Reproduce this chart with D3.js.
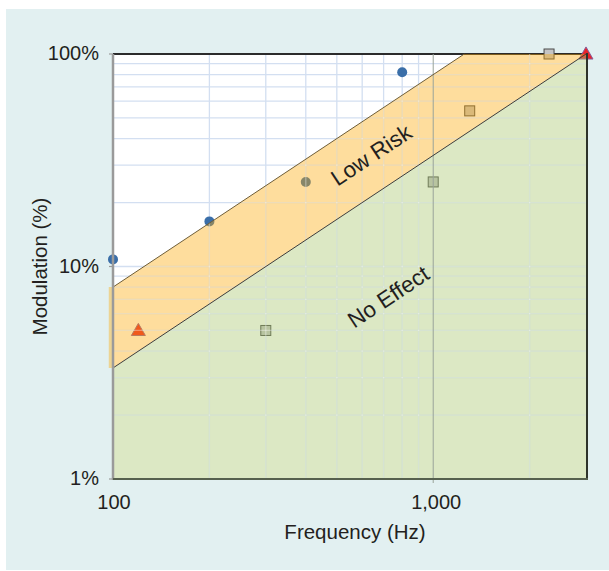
<!DOCTYPE html>
<html lang="en">
<head>
<meta charset="UTF-8">
<title>Modulation vs Frequency</title>
<script src="https://d3js.org/d3.v7.min.js"></script>
<style>
    body { margin: 0; background: #fff; }
    svg { display: block; font-family: "Liberation Sans", Arial, sans-serif; }
    .tick-label { font-size: 20px; fill: #231f20; }
    .axis-title { font-size: 20.5px; fill: #231f20; }
    .zone-label { font-size: 22.5px; fill: #231f20; }
</style>
</head>
<body>
<script>
    // measured points
    const circleFreq = [100, 200, 400, 800];
    const circleMod = [10.8, 16.3, 25, 82];
    const squareFreq = [300, 1000, 1300, 2300];
    const squareMod = [5, 25, 54, 100];
    const triangleFreq = [120, 3000];
    const triangleMod = [5, 100];

    // zone boundaries (low risk = 0.08 f, no effect = 0.0333 f)
    const lowRiskFreq = [97, 100, 1250, 3000];
    const lowRiskMod = [8, 8, 100, 100];
    const noEffectFreq = [97, 100, 3000];
    const noEffectMod = [3.33, 3.33, 100];

    const xTicks = [100, 1000];
    const xTickLabels = ["100", "1,000"];
    const yTicks = [1, 10, 100];
    const yTickLabels = ["1%", "10%", "100%"];

    const W = 609, H = 571;
    const x = d3.scaleLog().domain([100, 3000]).range([113, 586]);
    const y = d3.scaleLog().domain([1, 100]).range([479, 54]);

    const svg = d3.select("body").append("svg").attr("width", W).attr("height", H);

    svg.append("rect").attr("x", 6).attr("y", 9).attr("width", W - 6).attr("height", H - 10)
        .attr("fill", "#e2f0f1");

    svg.append("rect").attr("x", x(100)).attr("y", y(100))
        .attr("width", x(3000) - x(100)).attr("height", y(1) - y(100))
        .attr("fill", "#fff");

    // minor grid values
    const xGrid = [];
    for (const d of [100, 1000]) for (let k = 1; k <= 9; k++) if (d * k <= 3000) xGrid.push(d * k);
    const yGrid = [];
    for (const d of [1, 10]) for (let k = 1; k <= 9; k++) yGrid.push(d * k);
    yGrid.push(100);

    function drawGrid(g, color, width) {
        g.selectAll(".vg").data(xGrid.filter(v => v !== 100 && v !== 1000 && v !== 3000)).enter().append("line")
            .attr("x1", d => x(d)).attr("x2", d => x(d)).attr("y1", y(100)).attr("y2", y(1))
            .attr("stroke", color).attr("stroke-width", width);
        g.selectAll(".hg").data(yGrid.filter(v => v !== 1 && v !== 100)).enter().append("line")
            .attr("x1", x(100)).attr("x2", x(3000)).attr("y1", d => y(d)).attr("y2", d => y(d))
            .attr("stroke", color).attr("stroke-width", width);
    }

    drawGrid(svg.append("g"), "#d3dff1", 1.3);

    // top border sits under the translucent zones
    svg.append("line").attr("x1", x(100)).attr("x2", x(3000) + 1).attr("y1", y(100)).attr("y2", y(100))
        .attr("stroke", "#2b2b2b").attr("stroke-width", 2.2);

    // markers (zones are painted over them)
    const marks = svg.append("g");
    marks.selectAll(".sq").data(squareFreq.map((f, i) => [f, squareMod[i]])).enter().append("rect")
        .attr("x", d => x(d[0]) - 5).attr("y", d => y(d[1]) - 5)
        .attr("width", 10).attr("height", 10)
        .attr("fill", "#c4c4c4").attr("stroke", "#4a4a4a").attr("stroke-width", 1);
    marks.selectAll(".ci").data(circleFreq.map((f, i) => [f, circleMod[i]])).enter().append("circle")
        .attr("cx", d => x(d[0])).attr("cy", d => y(d[1])).attr("r", 5)
        .attr("fill", "#3a6ea8");
    const tri = d3.symbol().type(d3.symbolTriangle).size(85);
    marks.selectAll(".tr").data(triangleFreq.map((f, i) => [f, triangleMod[i]])).enter().append("path")
        .attr("d", tri)
        .attr("transform", d => `translate(${x(d[0])},${y(d[1]) + 1})`)
        .attr("fill", "#e8242a").attr("stroke", "#8a5c9a").attr("stroke-width", 1);

    // zones
    const area = d3.line().x(d => x(d[0])).y(d => y(d[1]));
    const lowPts = lowRiskFreq.map((f, i) => [f, lowRiskMod[i]]);
    const noPts = noEffectFreq.map((f, i) => [f, noEffectMod[i]]);
    const orangePoly = lowPts.concat(noPts.slice().reverse());
    const greenPoly = noPts.slice(1).concat([[3000, 1], [100, 1]]);

    svg.append("path").attr("d", area(orangePoly) + "Z").attr("fill", "#fcaa0a").attr("fill-opacity", 0.4);
    svg.append("path").attr("d", area(greenPoly) + "Z").attr("fill", "#a7c56b").attr("fill-opacity", 0.4);

    // lighter grid inside the zones
    const clip = svg.append("clipPath").attr("id", "zones");
    clip.append("path").attr("d", area(orangePoly) + "Z");
    clip.append("path").attr("d", area(greenPoly) + "Z");
    drawGrid(svg.append("g").attr("clip-path", "url(#zones)"), "rgba(255,255,255,0.35)", 1.3);

    // 1,000 Hz line
    svg.append("line").attr("x1", x(1000)).attr("x2", x(1000)).attr("y1", y(100)).attr("y2", y(1) + 4)
        .attr("stroke", "#9aa49a").attr("stroke-width", 1);

    // boundary lines
    svg.append("path").attr("d", area(lowPts.slice(1, 3))).attr("fill", "none")
        .attr("stroke", "#6e5d38").attr("stroke-width", 1);
    svg.append("path").attr("d", area(noPts.slice(1))).attr("fill", "none")
        .attr("stroke", "#3c3c3c").attr("stroke-width", 1);

    // frame
    svg.append("line").attr("x1", x(100)).attr("x2", x(100)).attr("y1", y(100)).attr("y2", y(1) + 1)
        .attr("stroke", "#9a9a9a").attr("stroke-width", 2.5);
    svg.append("line").attr("x1", x(3000) + 1).attr("x2", x(3000) + 1).attr("y1", y(100) - 1).attr("y2", y(1) + 1)
        .attr("stroke", "#2e332b").attr("stroke-width", 2);
    svg.append("line").attr("x1", x(100)).attr("x2", x(3000) + 2).attr("y1", y(1)).attr("y2", y(1))
        .attr("stroke", "#56604e").attr("stroke-width", 2);

    // ticks and labels
    svg.selectAll(".yt").data(yTicks).enter().append("line")
        .attr("x1", x(100) - 4).attr("x2", x(100)).attr("y1", d => y(d)).attr("y2", d => y(d))
        .attr("stroke", "#9a9a9a").attr("stroke-width", 1.2);
    svg.selectAll(".yl").data(yTicks).enter().append("text")
        .attr("class", "tick-label").attr("x", x(100) - 14).attr("y", d => y(d) - 1).attr("dy", "0.35em")
        .attr("text-anchor", "end").text((d, i) => yTickLabels[i]);
    svg.selectAll(".xl").data(xTicks).enter().append("text")
        .attr("class", "tick-label").attr("x", d => x(d) + (d === 1000 ? 3 : 1)).attr("y", y(1) + 23)
        .attr("dy", "0.35em").attr("text-anchor", "middle").text((d, i) => xTickLabels[i]);

    svg.append("text").attr("class", "axis-title").attr("x", 355).attr("y", 532).attr("dy", "0.35em")
        .attr("text-anchor", "middle").text("Frequency (Hz)");
    svg.append("text").attr("class", "axis-title")
        .attr("transform", `translate(40,${(y(1) + y(100)) / 2}) rotate(-90)`)
        .attr("dy", "0.35em").attr("text-anchor", "middle").text("Modulation (%)");

    // zone labels, rotated along the boundaries
    const angle = -Math.atan((y(1) - y(10)) / (x(1000) - x(100))) * 180 / Math.PI;
    const zoneLabels = [["Low Risk", 640, 33.5], ["No Effect", 724, 7.2]];
    svg.selectAll(".zl").data(zoneLabels).enter().append("text")
        .attr("class", "zone-label")
        .attr("transform", d => `translate(${x(d[1])},${y(d[2])}) rotate(${angle})`)
        .attr("dy", "0.35em").attr("text-anchor", "middle").text(d => d[0]);
</script>
</body>
</html>
